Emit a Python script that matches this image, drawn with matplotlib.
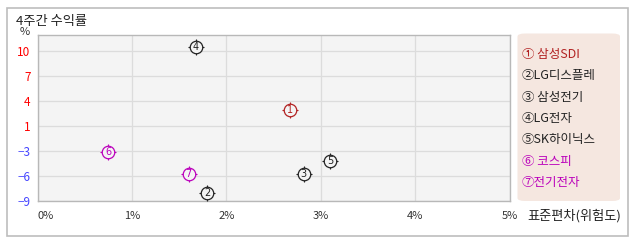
import numpy as np
from matplotlib import pyplot as plt
from matplotlib.patches import Rectangle, FancyBboxPatch

plt.rcParams['font.family'] = ['Noto Sans CJK KR', 'DejaVu Sans']

# data
names = ['삼성SDI', 'LG디스플레', '삼성전기', 'LG전자', 'SK하이닉스', '코스피', '전기전자']
marks = ['①', '②', '③', '④', '⑤', '⑥', '⑦']
legend_gap = [' ', '', ' ', '', '', ' ', '']
std_dev = [2.68, 1.80, 2.82, 1.68, 3.10, 0.75, 1.60]
returns = [2.9, -8.1, -5.8, 10.4, -4.2, -3.1, -5.8]
y_ticks = [10, 7, 4, 1, -3, -6, -9]
x_ticks = [0, 1, 2, 3, 4, 5]
x_labels = ['0%', '1%', '2%', '3%', '4%', '5%']

RED = '#b22222'
PURPLE = '#bb00bb'
DARK = '#222222'
colors = [RED, DARK, DARK, DARK, DARK, PURPLE, PURPLE]
y_colors = ['#ff0000'] * 4 + ['#4444ff'] * 3

W, H = 638, 242
fig = plt.figure(figsize=(W / 100, H / 100), dpi=100)


def px(x0, y0, x1, y1):
    # pixel box (top-left origin) -> figure fraction rect
    return (x0 / W, 1 - y1 / H, (x1 - x0) / W, (y1 - y0) / H)


# outer frame
bx, by, bw, bh = px(6.5, 7.5, 627.5, 235.5)
fig.patches.append(Rectangle((bx, by), bw, bh, transform=fig.transFigure,
                             fill=False, edgecolor='#bdbdbd', linewidth=1.2))

ax = fig.add_axes(px(37.5, 34.5, 509.5, 201))
ax.set_facecolor('#f4f4f4')

# y axis has evenly spaced ticks with uneven steps -> piecewise scale
anchors = np.array([-9, -6, -3, 1, 4, 7, 10, 13], dtype=float)
steps = np.arange(len(anchors), dtype=float)


def fwd(v):
    return np.interp(v, anchors, steps)


def inv(p):
    return np.interp(p, steps, anchors)


ax.set_yscale('function', functions=(fwd, inv))
ax.set_ylim(-9, 11.92)
ax.set_xlim(0, 5)

ax.set_xticks(x_ticks)
ax.set_xticklabels(x_labels, fontsize=8, color='#333333')
ax.get_xticklabels()[0].set_horizontalalignment('left')
ax.set_yticks(y_ticks)
ax.set_yticklabels([str(v).replace('-', '\u2212') for v in y_ticks], fontsize=8.5)
for lab, c in zip(ax.get_yticklabels(), y_colors):
    lab.set_color(c)
ax.yaxis.set_minor_locator(plt.NullLocator())
ax.tick_params(axis='both', length=0)
ax.tick_params(axis='x', pad=7)
ax.tick_params(axis='y', pad=5)

ax.grid(True, color='#dcdcdc', linewidth=0.9)
ax.set_axisbelow(True)
for s in ax.spines.values():
    s.set_color('#b8b8b8')
    s.set_linewidth(1.0)

# circled markers with little ticks around them
for x, y, c, n in zip(std_dev, returns, colors, range(1, 8)):
    ax.plot(x, y, marker='+', markersize=11, mew=0.8, color=c, zorder=3)
    ax.plot(x, y, marker='o', markersize=9, mfc='#f4f4f4', mec=c, mew=0.9, zorder=4)
    ax.text(x, y, str(n), color=c, fontsize=7, ha='center', va='center', zorder=5,
            family='DejaVu Sans')

fig.text(16 / W, 1 - 21 / H, '4주간 수익률', fontsize=9.5, color='#222222', va='center')
fig.text(25 / W, 1 - 32 / H, '%', fontsize=8, color='#333333', va='center', ha='center')
fig.text(527 / W, 1 - 216 / H, '표준편차(위험도)', fontsize=9.5, color='#222222', va='center')

# legend box
lx, ly, lw, lh = px(517.5, 33.5, 620, 201)
fig.patches.append(FancyBboxPatch((lx, ly), lw, lh, transform=fig.transFigure,
                                  boxstyle='round,pad=0,rounding_size=0.012',
                                  facecolor='#f5e7e0', edgecolor='none'))
for i, (m, g, nm, c) in enumerate(zip(marks, legend_gap, names, colors)):
    fig.text(521.5 / W, 1 - (54.5 + i * 21.3) / H, m + g + nm, fontsize=9, color=c,
             va='center')

fig.savefig('out.png', dpi=100, facecolor='white')
